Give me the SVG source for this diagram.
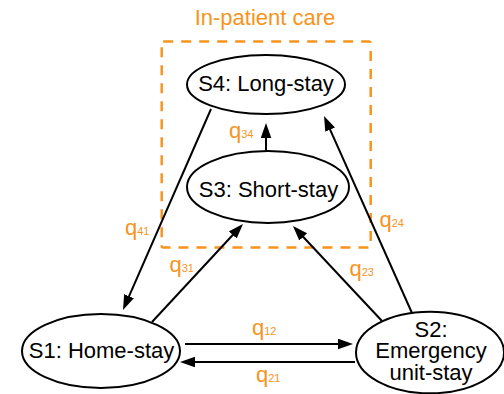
<svg xmlns="http://www.w3.org/2000/svg" width="504" height="394" viewBox="0 0 504 394">
  <defs>
    <style>
      text { font-family: "Liberation Sans", Arial, Helvetica, sans-serif; }
      .node ellipse { fill: #ffffff; stroke: #000000; stroke-width: 2; }
      .label { font-size: 22px; fill: #000000; text-anchor: middle; }
      .edge { stroke: #000000; stroke-width: 2; fill: none; marker-end: url(#arrow); }
      .rate { font-size: 22px; fill: #F7941D; }
      .rate tspan { font-size: 11px; }
      .group-box { fill: none; stroke: #F7941D; stroke-width: 2.5; stroke-dasharray: 10 8; }
      .group-title { font-size: 22px; fill: #F7941D; text-anchor: middle; }
    </style>
    <marker id="arrow" markerUnits="userSpaceOnUse" markerWidth="16" markerHeight="12" refX="5" refY="5.3" orient="auto">
      <path d="M0,0 L15,5.3 L0,10.6 Z" fill="#000000"/>
    </marker>
  </defs>

  <!-- in-patient group -->
  <g id="inpatient-group">
    <rect class="group-box" x="161.7" y="41.5" width="209" height="206" rx="1.5"/>
    <text class="group-title" x="265" y="25">In-patient care</text>
  </g>

  <!-- transitions -->
  <g id="connectors">
    <line class="edge" x1="266" y1="151" x2="266" y2="133"/>
    <line class="edge" x1="211" y1="109" x2="127" y2="300.8"/>
    <line class="edge" x1="152" y1="322" x2="236.2" y2="231.3"/>
    <line class="edge" x1="382" y1="321" x2="299.8" y2="233.3"/>
    <line class="edge" x1="412" y1="313" x2="328.1" y2="125.1"/>
    <line class="edge" x1="185" y1="344" x2="343" y2="344"/>
    <line class="edge" x1="355" y1="362" x2="190" y2="362"/>
  </g>

  <!-- transition rates -->
  <g id="rates">
    <text class="rate" x="229" y="138">q<tspan>34</tspan></text>
    <text class="rate" x="125" y="235">q<tspan>41</tspan></text>
    <text class="rate" x="169.5" y="271.5">q<tspan>31</tspan></text>
    <text class="rate" x="349.5" y="276">q<tspan>23</tspan></text>
    <text class="rate" x="379.5" y="226.7">q<tspan>24</tspan></text>
    <text class="rate" x="252" y="335">q<tspan>12</tspan></text>
    <text class="rate" x="256" y="381.5">q<tspan>21</tspan></text>
  </g>

  <!-- states -->
  <g id="s4" class="node">
    <ellipse cx="266" cy="84.5" rx="79" ry="29.5"/>
    <text class="label" x="266" y="90.5">S4: Long-stay</text>
  </g>
  <g id="s3" class="node">
    <ellipse cx="268" cy="187" rx="81" ry="36"/>
    <text class="label" x="268.5" y="196.7">S3: Short-stay</text>
  </g>
  <g id="s1" class="node">
    <ellipse cx="101" cy="351" rx="79" ry="37"/>
    <text class="label" x="101.5" y="358">S1: Home-stay</text>
  </g>
  <g id="s2" class="node">
    <ellipse cx="430" cy="352.5" rx="74" ry="40.8"/>
    <text class="label" x="431" y="336.7">S2:</text>
    <text class="label" x="431" y="358.3">Emergency</text>
    <text class="label" x="431" y="380">unit-stay</text>
  </g>
</svg>
